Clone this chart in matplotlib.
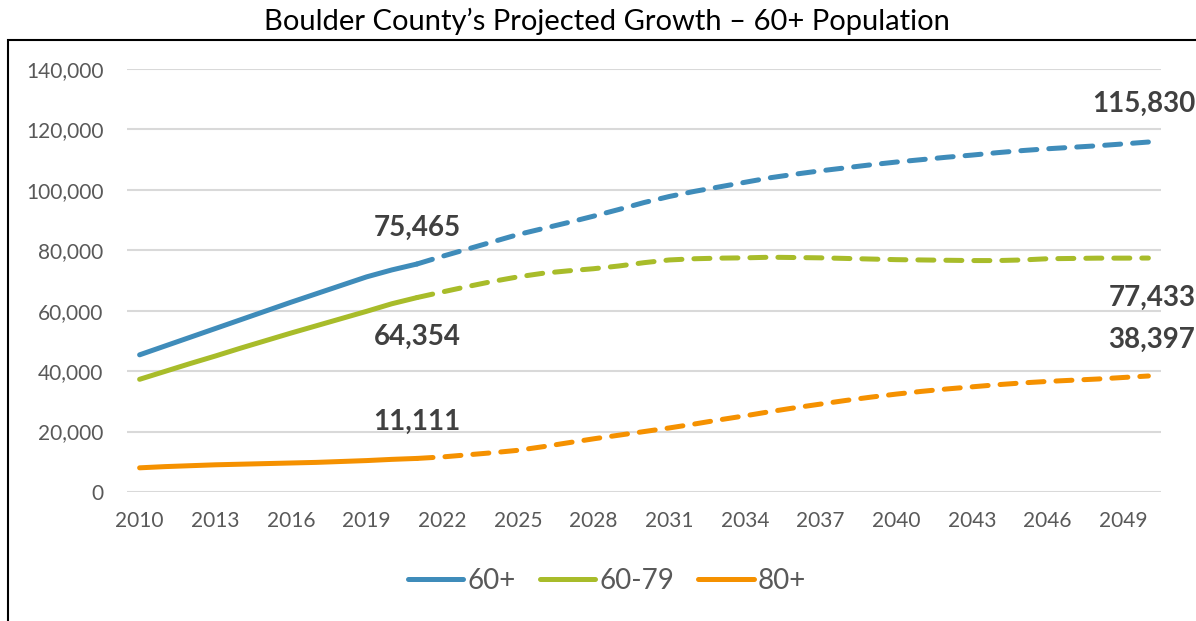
import numpy as np
import matplotlib.pyplot as plt
from matplotlib.patches import Rectangle

# ============================================================
# DATA
# ============================================================

years = list(range(2010, 2051))

pop_60_plus = [45400, 48300, 51200, 54100, 57000, 59900, 62800, 65600, 68400, 71200,
               73500, 75465, 78000, 80400, 82800, 85200, 87200, 89200, 91300, 93500,
               95800, 97800, 99500, 101000, 102500, 104000, 105200, 106300, 107300, 108300,
               109200, 110000, 110800, 111500, 112300, 113000, 113600, 114100, 114600, 115200,
               115830]

pop_60_79 = [37300, 39900, 42500, 45000, 47600, 50100, 52600, 55000, 57400, 59800,
             62300, 64354, 66200, 68000, 69700, 71200, 72400, 73200, 73900, 74800,
             75900, 76800, 77200, 77400, 77500, 77700, 77600, 77500, 77300, 77100,
             76900, 76800, 76700, 76600, 76600, 76800, 77200, 77300, 77400, 77400,
             77433]

pop_80_plus = [8000, 8400, 8700, 9000, 9200, 9400, 9600, 9800, 10100, 10400,
               10800, 11111, 11600, 12300, 13000, 13800, 15000, 16300, 17600, 18800,
               20000, 21200, 22500, 23900, 25200, 26600, 27900, 29100, 30300, 31400,
               32400, 33300, 34100, 34800, 35500, 36100, 36600, 37000, 37400, 37900,
               38397]

series_names = ["60+", "60-79", "80+"]
series_colors = ["#3F8CBA", "#A8BC2A", "#F59100"]

last_actual_year = 2021
tick_years = list(range(2010, 2050, 3))
y_ticks = list(range(0, 140001, 20000))

# ============================================================
# PLOT
# ============================================================

plt.rcParams["font.family"] = ["Lato", "DejaVu Sans"]

W, H = 1196, 621
fig = plt.figure(figsize=(W / 100, H / 100), dpi=100)
ax = fig.add_axes([127 / W, 1 - 492 / H, (1161 - 127) / W, (492 - 69) / H])

split = years.index(last_actual_year)
lw = 3.6
handles = []
for name, color, vals in zip(series_names, series_colors,
                             [pop_60_plus, pop_60_79, pop_80_plus]):
    h, = ax.plot(years[:split + 1], vals[:split + 1], color=color, lw=lw,
                 solid_capstyle="round", label=name, zorder=3)
    ax.plot(years[split:], vals[split:], color=color, lw=lw,
            linestyle=(0, (3.2, 2.4)), dash_capstyle="round", zorder=3)
    handles.append(h)

ax.set_xlim(2009.5, 2050.5)
ax.set_ylim(0, 140000)
ax.set_xticks(tick_years)
ax.set_xticklabels([str(y) for y in tick_years])
ax.set_yticks(y_ticks)
ax.set_yticklabels([f"{v:,}" for v in y_ticks])
ax.tick_params(axis="both", length=0, labelsize=15, labelcolor="#595959")
ax.tick_params(axis="y", pad=17)
ax.tick_params(axis="x", pad=14)
ax.grid(axis="y", color="#D9D9D9", lw=1.5)
ax.set_axisbelow(True)
for s in ax.spines.values():
    s.set_visible(False)

# value labels
label_style = dict(textcoords="offset pixels", fontsize=20, fontweight="bold",
                   color="#404040", va="center", annotation_clip=False)
i21 = years.index(2021)
ax.annotate(f"{pop_60_plus[i21]:,}", (2021, pop_60_plus[i21]), xytext=(0, 36), ha="center", **label_style)
ax.annotate(f"{pop_60_79[i21]:,}", (2021, pop_60_79[i21]), xytext=(0, -39), ha="center", **label_style)
ax.annotate(f"{pop_80_plus[i21]:,}", (2021, pop_80_plus[i21]), xytext=(0, 37), ha="center", **label_style)
ax.annotate(f"{pop_60_plus[-1]:,}", (2050, pop_60_plus[-1]), xytext=(47, 38), ha="right", **label_style)
ax.annotate(f"{pop_60_79[-1]:,}", (2050, pop_60_79[-1]), xytext=(47, -40), ha="right", **label_style)
ax.annotate(f"{pop_80_plus[-1]:,}", (2050, pop_80_plus[-1]), xytext=(47, 36), ha="right", **label_style)

# frame around chart area
fig.patches.append(Rectangle((8 / W, -0.2), 1.2, 1.2 - 40 / H, transform=fig.transFigure,
                             fill=False, edgecolor="black", lw=1.5, clip_on=False))

fig.text(607 / W, 1 - 21 / H, "Boulder County\u2019s Projected Growth \u2013 60+ Population",
         ha="center", va="center", fontsize=21, color="black")

leg = fig.legend(handles=handles, loc="center", bbox_to_anchor=(607 / W, 1 - 581 / H),
                 ncol=3, frameon=False, fontsize=20, handlelength=2.0,
                 handletextpad=0.15, columnspacing=0.86, labelcolor="#595959")

fig.savefig("out.png", dpi=100)
